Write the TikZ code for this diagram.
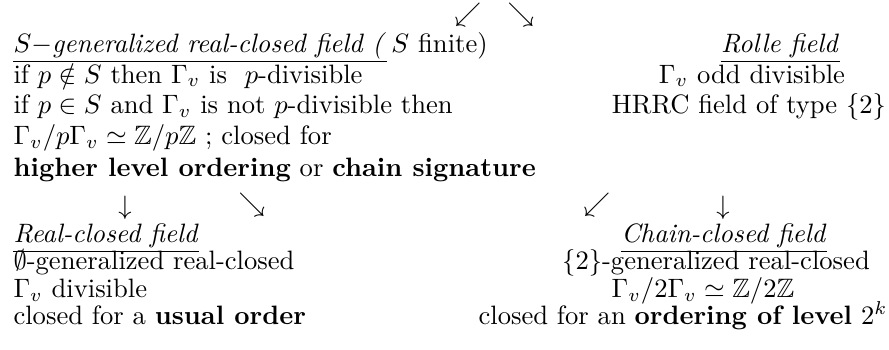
\documentclass[tikz,border=0pt]{standalone}
\usepackage{amsmath}
\usepackage{amssymb}
\usepackage{tikz}

\tikzset{
	leftrow/.style={anchor=base west, inner sep=0pt},
	rightrow/.style={anchor=base, inner sep=0pt},
	glyph/.style={inner sep=0pt},
	underline/.style={line width=0.45pt}
}

\begin{document}
\begin{tikzpicture}[x=0.376pt, y=-0.376pt]
			\useasboundingbox (0,0) rectangle (889,349);
			% top arrows
			\node[glyph] (topsw) at (468,15) {$\swarrow$};
			\node[glyph] (topse) at (521,15) {$\searrow$};
			% S-generalized real-closed field
			\node[leftrow] (gen1) at (13,52) {$S-$\textit{generalized real-closed field (}};
			\node[leftrow] (gen1b) at (gen1.base east) {\,$S$ finite)};
			\node[leftrow] (gen2) at (13,83) {if $p\notin S$ then $\Gamma_v$ is \ $p$-divisible};
			\node[leftrow] (gen3) at (13,113) {if $p\in S$ and $\Gamma_v$ is not $p$-divisible then};
			\node[leftrow] (gen4) at (13,144) {$\Gamma_v/p\Gamma_v\simeq\mathbb{Z}/p\mathbb{Z}$ ; closed for};
			\node[leftrow] (gen5) at (13,176) {\textbf{higher level ordering} or \textbf{chain signature}};
			% Rolle field
			\node[rightrow] (rolle1) at (780,52) {\textit{Rolle field}};
			\node[rightrow] (rolle2) at (752,83) {$\Gamma_v$ odd divisible};
			\node[rightrow] (rolle3) at (749,113) {HRRC field of type $\{2\}$};
			% middle arrows
			\node[glyph] (middown1) at (125,208) {$\downarrow$};
			\node[glyph] (midse) at (252,205) {$\searrow$};
			\node[glyph] (midsw) at (597,205) {$\swarrow$};
			\node[glyph] (middown2) at (723,208) {$\downarrow$};
			% Real-closed field
			\node[leftrow] (real1) at (13,242) {\textit{Real-closed field}};
			\node[leftrow] (real2) at (13,269) {$\emptyset$-generalized real-closed};
			\node[leftrow] (real3) at (13,297) {$\Gamma_v$ divisible};
			\node[leftrow] (real4) at (13,324) {closed for a \textbf{usual order}};
			% Chain-closed field
			\node[rightrow] (chain1) at (724,242) {\textit{Chain-closed field}};
			\node[rightrow] (chain2) at (716,269) {$\{2\}$-generalized real-closed};
			\node[rightrow] (chain3) at (703,297) {$\Gamma_v/2\Gamma_v\simeq\mathbb{Z}/2\mathbb{Z}$};
			\node[rightrow] (chain4) at (683,324) {closed for an \textbf{ordering of level} $2^k$};
			% underlines of the headings
			\foreach \h in {gen1, rolle1, real1, chain1}
				\draw[underline] ([yshift=-3.6pt]\h.base west) -- ([yshift=-3.6pt]\h.base east);
\end{tikzpicture}
\end{document}
